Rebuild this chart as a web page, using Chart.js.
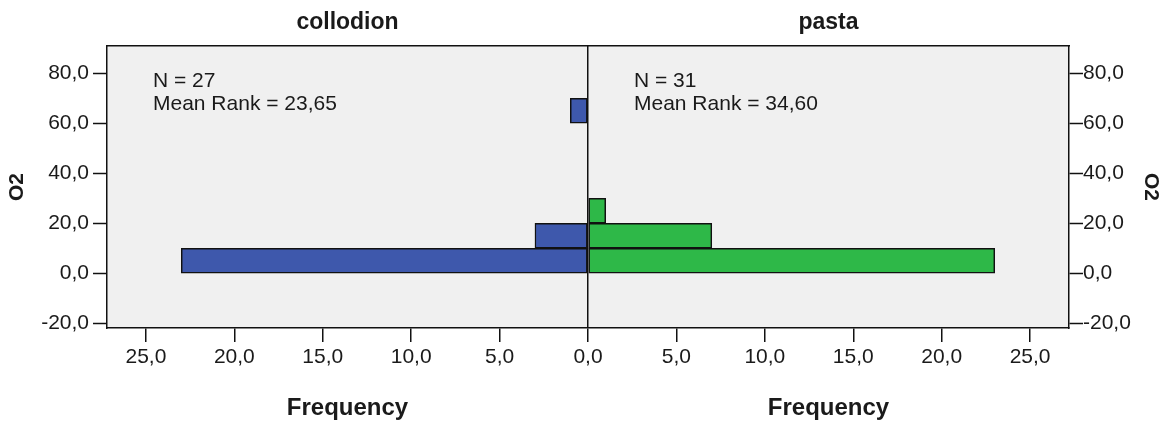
<!DOCTYPE html>
<html>
<head>
<meta charset="utf-8">
<script src="https://cdn.jsdelivr.net/npm/chart.js@4.4.1/dist/chart.umd.min.js"></script>
<style>
  html, body { margin: 0; padding: 0; background: #ffffff; }
  #wrap { position: relative; width: 1174px; height: 427px; }
</style>
</head>
<body>
<div id="wrap"><canvas id="pyramid" width="1174" height="427"></canvas></div>
<script>
// O2 histogram bins (bin midpoints, width 10)
const binMidpoints = [5, 15, 25, 35, 45, 55, 65];
// Frequencies per bin for each group
const collodionCounts = [23, 3, 0, 0, 0, 0, 1];
const pastaCounts = [23, 7, 1, 0, 0, 0, 0];
// Group names and summary statistics
const groupNames = ['collodion', 'pasta'];
const groupN = [27, 31];
const groupMeanRank = ['23,65', '34,60'];
// Axis tick values
const o2Ticks = [-20, 0, 20, 40, 60, 80];
const freqTicks = [-25, -20, -15, -10, -5, 0, 5, 10, 15, 20, 25];

const X_LIMIT = 27.2;
const Y_MIN = -21.9, Y_MAX = 90.9;
const FONT = "'Liberation Sans', Arial, sans-serif";
const TEXT = '#1a1a1a';

const fmt = v => Math.abs(v).toFixed(1).replace('.', ',');
const fmtSigned = v => v.toFixed(1).replace('.', ',');

function toPoints(counts, sign) {
  const pts = [];
  counts.forEach((c, i) => {
    if (c > 0) pts.push({ x: sign * c, y: binMidpoints[i] });
  });
  return pts;
}

const panelBackground = {
  id: 'panelBackground',
  beforeDraw(chart) {
    const { ctx, chartArea: a } = chart;
    ctx.save();
    ctx.fillStyle = '#f0f0f0';
    ctx.fillRect(a.left, a.top, a.right - a.left, a.bottom - a.top);
    ctx.restore();
  }
};

const panelText = {
  id: 'panelText',
  afterDraw(chart) {
    const { ctx, chartArea: a } = chart;
    const xs = chart.scales.x;
    const zero = xs.getPixelForValue(0);
    const leftMid = (a.left + zero) / 2;
    const rightMid = (zero + a.right) / 2;
    ctx.save();
    ctx.fillStyle = TEXT;
    ctx.textAlign = 'center';
    ctx.textBaseline = 'alphabetic';
    // panel headers
    ctx.font = 'bold 23px ' + FONT;
    ctx.fillText(groupNames[0], leftMid, 29);
    ctx.fillText(groupNames[1], rightMid, 29);
    // axis titles under each panel
    ctx.font = 'bold 24px ' + FONT;
    ctx.fillText('Frequency', leftMid, 415);
    ctx.fillText('Frequency', rightMid, 415);
    // summary statistics
    ctx.textAlign = 'left';
    ctx.font = '21px ' + FONT;
    const starts = [a.left + 46, zero + 46];
    starts.forEach((sx, i) => {
      ctx.fillText('N = ' + groupN[i], sx, 87);
      ctx.fillText('Mean Rank = ' + groupMeanRank[i], sx, 110);
    });
    ctx.restore();
  }
};

const keepTicks = list => scale => {
  scale.ticks = list.map(v => ({ value: v }));
};

const tickFont = { family: FONT, size: 21 };

function o2Axis(position, widthPx, labelPadding, titlePadding) {
  return {
    type: 'linear',
    position: position,
    min: Y_MIN,
    max: Y_MAX,
    offset: false,
    afterBuildTicks: keepTicks(o2Ticks),
    afterFit: s => { s.width = widthPx; },
    ticks: {
      callback: v => fmtSigned(v),
      font: tickFont,
      color: TEXT,
      padding: labelPadding,
      autoSkip: false
    },
    grid: {
      offset: false,
      drawOnChartArea: false,
      tickLength: 14,
      tickColor: '#111111',
      tickWidth: 1.5
    },
    border: { display: true, color: '#111111', width: 1.5 },
    title: {
      display: true,
      text: 'O2',
      color: TEXT,
      font: { family: FONT, size: 21, weight: 'bold' },
      padding: { top: titlePadding, bottom: 0 }
    }
  };
}

new Chart(document.getElementById('pyramid'), {
  type: 'bar',
  data: {
    datasets: [
      {
        label: groupNames[0],
        data: toPoints(collodionCounts, -1),
        backgroundColor: '#3e58ac',
        borderColor: '#111111',
        borderWidth: 1.5,
        borderSkipped: false,
        grouped: false,
        barPercentage: 1,
        categoryPercentage: 1
      },
      {
        label: groupNames[1],
        data: toPoints(pastaCounts, 1),
        backgroundColor: '#2eb848',
        borderColor: '#111111',
        borderWidth: 1.5,
        borderSkipped: false,
        grouped: false,
        barPercentage: 1,
        categoryPercentage: 1
      }
    ]
  },
  options: {
    indexAxis: 'y',
    responsive: false,
    animation: false,
    layout: { padding: 0 },
    plugins: {
      legend: { display: false },
      tooltip: { enabled: false },
      title: { display: false }
    },
    scales: {
      x: {
        type: 'linear',
        position: 'bottom',
        min: -X_LIMIT,
        max: X_LIMIT,
        offset: false,
        afterBuildTicks: keepTicks(freqTicks),
        afterFit: s => { s.height = 99; },
        ticks: {
          callback: v => fmt(v),
          font: tickFont,
          color: TEXT,
          padding: 3,
          maxRotation: 0,
          autoSkip: false
        },
        grid: {
          offset: false,
          drawOnChartArea: true,
          color: c => (c.tick && c.tick.value === 0 ? '#111111' : 'rgba(0,0,0,0)'),
          lineWidth: 1.5,
          tickLength: 14,
          tickColor: '#111111',
          tickWidth: 1.5
        },
        border: { display: true, color: '#111111', width: 1.5 }
      },
      xTop: {
        type: 'linear',
        position: 'top',
        min: -X_LIMIT,
        max: X_LIMIT,
        offset: false,
        afterFit: s => { s.height = 46; },
        ticks: { display: false },
        grid: { offset: false, drawOnChartArea: false, drawTicks: false },
        border: { display: true, color: '#111111', width: 1.5 }
      },
      y: o2Axis('left', 107, 4, 5),
      yRight: o2Axis('right', 105, 0, 11)
    }
  },
  plugins: [panelBackground, panelText]
});
</script>
</body>
</html>
